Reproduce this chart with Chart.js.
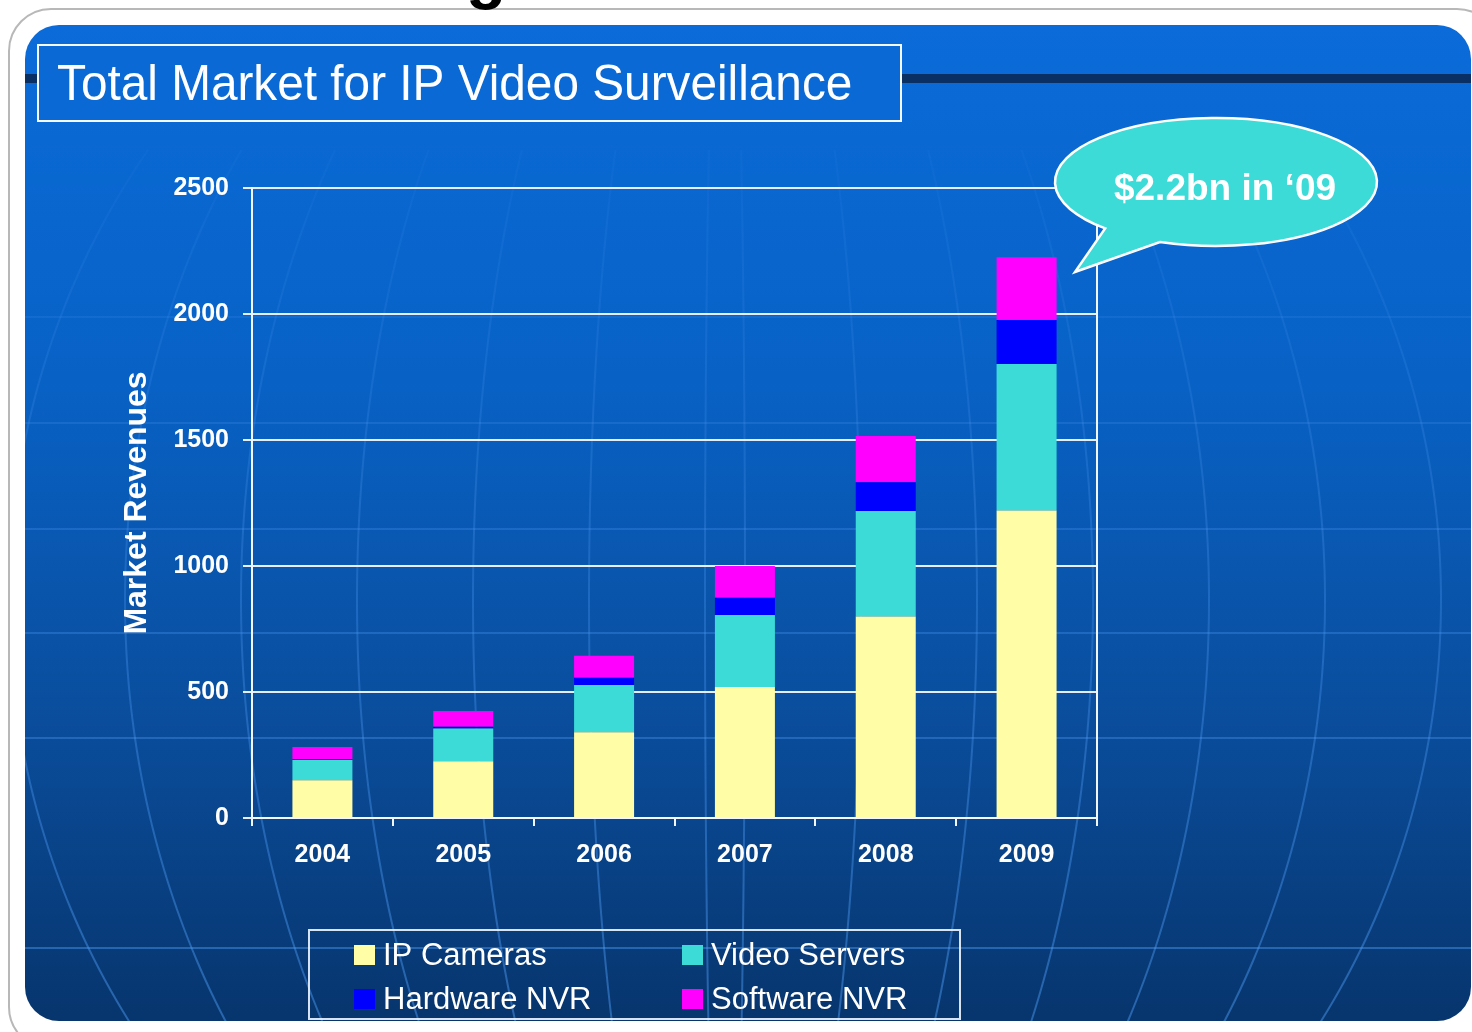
<!DOCTYPE html>
<html>
<head>
<meta charset="utf-8">
<title>Total Market for IP Video Surveillance</title>
<script src="https://cdn.jsdelivr.net/npm/chart.js@4.4.1/dist/chart.umd.min.js"></script>
<style>
  html, body { margin: 0; padding: 0; background: #fff; }
  #wrap { width: 1472px; height: 1032px; position: relative; }
</style>
</head>
<body>
<div id="wrap"><canvas id="ipChart"></canvas></div>
<script>
'use strict';

// --- data ---
const YEARS = ['2004', '2005', '2006', '2007', '2008', '2009'];
const IP_CAMERAS = [150, 225, 340, 520, 800, 1220];
const VIDEO_SERVERS = [80, 130, 188, 286, 418, 582];
const HARDWARE_NVR = [2, 7, 29, 68, 114, 174];
const SOFTWARE_NVR = [50, 63, 87, 126, 184, 249];
const Y_TICKS = [0, 500, 1000, 1500, 2000, 2500];

const TITLE = 'Total Market for IP Video Surveillance';
const CALLOUT = '$2.2bn in \u201809';
const FONT = "'Liberation Sans', Arial, sans-serif";

// slide background, frame, title box
const slideBg = {
  id: 'slideBg',
  beforeDraw(chart) {
    const ctx = chart.ctx;
    ctx.save();
    // white outer frame
    ctx.fillStyle = '#ffffff';
    ctx.strokeStyle = '#b8b8b8';
    ctx.lineWidth = 2;
    ctx.beginPath();
    ctx.roundRect(9, 9, 1490, 1040, 42);
    ctx.fill();
    ctx.stroke();

    // blue panel
    const g = ctx.createLinearGradient(0, 25, 0, 1021);
    g.addColorStop(0, '#0b6bd9');
    g.addColorStop(0.35, '#0862c6');
    g.addColorStop(0.7, '#0a4d9c');
    g.addColorStop(1, '#07356d');
    ctx.fillStyle = g;
    ctx.beginPath();
    ctx.roundRect(25, 25, 1446, 996, 34);
    ctx.fill();
    ctx.save();
    ctx.clip();

    // faint globe grid: parallels and meridians
    const lg = ctx.createLinearGradient(0, 150, 0, 1021);
    lg.addColorStop(0, 'rgba(80,155,245,0.05)');
    lg.addColorStop(0.4, 'rgba(80,155,245,0.25)');
    lg.addColorStop(1, 'rgba(80,160,250,0.45)');
    ctx.strokeStyle = lg;
    ctx.lineWidth = 2;
    [317, 423, 529, 633, 738, 948].forEach(y => {
      ctx.beginPath(); ctx.moveTo(25, y); ctx.lineTo(1472, y); ctx.stroke();
    });
    const cx = 725, cy = 600, H = 760;
    for (let k = 0; k <= 6; k++) {
      const r = 20 + 116 * k;
      [-1, 1].forEach(side => {
        ctx.beginPath();
        for (let y = 150; y <= 1030; y += 10) {
          const f = Math.sqrt(Math.max(0, 1 - ((y - cy) / H) ** 2));
          const x = cx + side * r * f;
          if (y === 150) ctx.moveTo(x, y); else ctx.lineTo(x, y);
        }
        ctx.stroke();
      });
    }

    // dark rule behind the title
    ctx.fillStyle = '#0a2f62';
    ctx.fillRect(25, 74, 1450, 9);
    ctx.restore();

    // title box
    ctx.fillStyle = '#0a69d4';
    ctx.fillRect(38, 45, 863, 76);
    ctx.strokeStyle = '#f4f8ff';
    ctx.lineWidth = 2;
    ctx.strokeRect(38, 45, 863, 76);
    ctx.fillStyle = '#ffffff';
    ctx.font = '50px ' + FONT;
    ctx.textBaseline = 'alphabetic';
    ctx.save();
    ctx.translate(57, 100);
    ctx.scale(0.955, 1);
    ctx.fillText(TITLE, 0, 0);
    ctx.restore();

    // fragment of a letter from the slide above
    ctx.fillStyle = '#000000';
    ctx.font = 'bold 66px ' + FONT;
    ctx.fillText('g', 466, -4);
    ctx.restore();
  },
  afterDraw(chart) {
    const ctx = chart.ctx;
    const { left, right, top, bottom } = chart.chartArea;
    ctx.save();
    // right border and axis extension
    ctx.strokeStyle = '#f2f6ff';
    ctx.lineWidth = 2;
    ctx.beginPath();
    ctx.moveTo(right, top); ctx.lineTo(right, bottom + 8);
    ctx.moveTo(left, bottom); ctx.lineTo(left, bottom + 8);
    ctx.stroke();

    // speech bubble
    const cx = 1216, cy = 182, rx = 161, ry = 64;
    const a = 2.33, b = 1.926 + Math.PI * 2;
    ctx.beginPath();
    ctx.ellipse(cx, cy, rx, ry, 0, a, b, false);
    ctx.lineTo(1075, 272);
    ctx.closePath();
    ctx.fillStyle = '#3cdbd8';
    ctx.fill();
    ctx.strokeStyle = '#ffffff';
    ctx.lineWidth = 2.5;
    ctx.stroke();
    ctx.fillStyle = '#ffffff';
    ctx.font = 'bold 37px ' + FONT;
    ctx.textAlign = 'center';
    ctx.textBaseline = 'middle';
    ctx.fillText(CALLOUT, 1225, 190);

    // legend box
    ctx.strokeStyle = 'rgba(240,246,255,0.9)';
    ctx.lineWidth = 2;
    ctx.strokeRect(309, 930, 651, 89);
    const cols = [354, 682];
    const rows = [955, 999];
    ctx.font = '31px ' + FONT;
    ctx.textAlign = 'left';
    chart.data.datasets.forEach((ds, i) => {
      const x = cols[i % 2];
      const y = rows[Math.floor(i / 2)];
      ctx.fillStyle = ds.backgroundColor;
      ctx.fillRect(x, y - 10, 21, 20);
      ctx.fillStyle = '#ffffff';
      ctx.fillText(ds.label, x + 29, y + 1);
    });
    ctx.restore();
  }
};

new Chart(document.getElementById('ipChart').getContext('2d'), {
  type: 'bar',
  data: {
    labels: YEARS,
    datasets: [
      { label: 'IP Cameras', data: IP_CAMERAS, backgroundColor: '#fffda5' },
      { label: 'Video Servers', data: VIDEO_SERVERS, backgroundColor: '#3cdbd8' },
      { label: 'Hardware NVR', data: HARDWARE_NVR, backgroundColor: '#0000ff' },
      { label: 'Software NVR', data: SOFTWARE_NVR, backgroundColor: '#ff00ff' },
    ],
  },
  options: {
    responsive: true,
    maintainAspectRatio: false,
    animation: false,
    datasets: { bar: { barPercentage: 0.426, categoryPercentage: 1.0, borderWidth: 0 } },
    layout: { padding: { left: 100, right: 375, top: 188, bottom: 154 } },
    plugins: { legend: { display: false }, tooltip: { enabled: false } },
    scales: {
      x: {
        stacked: true,
        afterFit: s => { s.height = 60; },
        border: { color: '#f2f6ff', width: 2 },
        grid: { drawOnChartArea: false, offset: true, tickLength: 8, color: '#f2f6ff', lineWidth: 2 },
        ticks: { color: '#ffffff', padding: 14, font: { family: FONT, size: 25, weight: 'bold' } },
      },
      y: {
        stacked: true,
        min: 0,
        max: 2500,
        afterFit: s => { s.width = 152; },
        afterBuildTicks: s => { s.ticks = Y_TICKS.map(v => ({ value: v })); },
        border: { color: '#f2f6ff', width: 2 },
        grid: { color: 'rgba(242,246,255,0.95)', lineWidth: 2, tickLength: 9 },
        ticks: {
          color: '#ffffff',
          padding: 14,
          font: { family: FONT, size: 25, weight: 'bold' },
          callback: v => String(v),
        },
        title: {
          display: true,
          text: 'Market Revenues',
          color: '#ffffff',
          padding: { top: 18, bottom: 0 },
          font: { family: FONT, size: 32, weight: 'bold' },
        },
      },
    },
  },
  plugins: [slideBg],
});
</script>
</body>
</html>
